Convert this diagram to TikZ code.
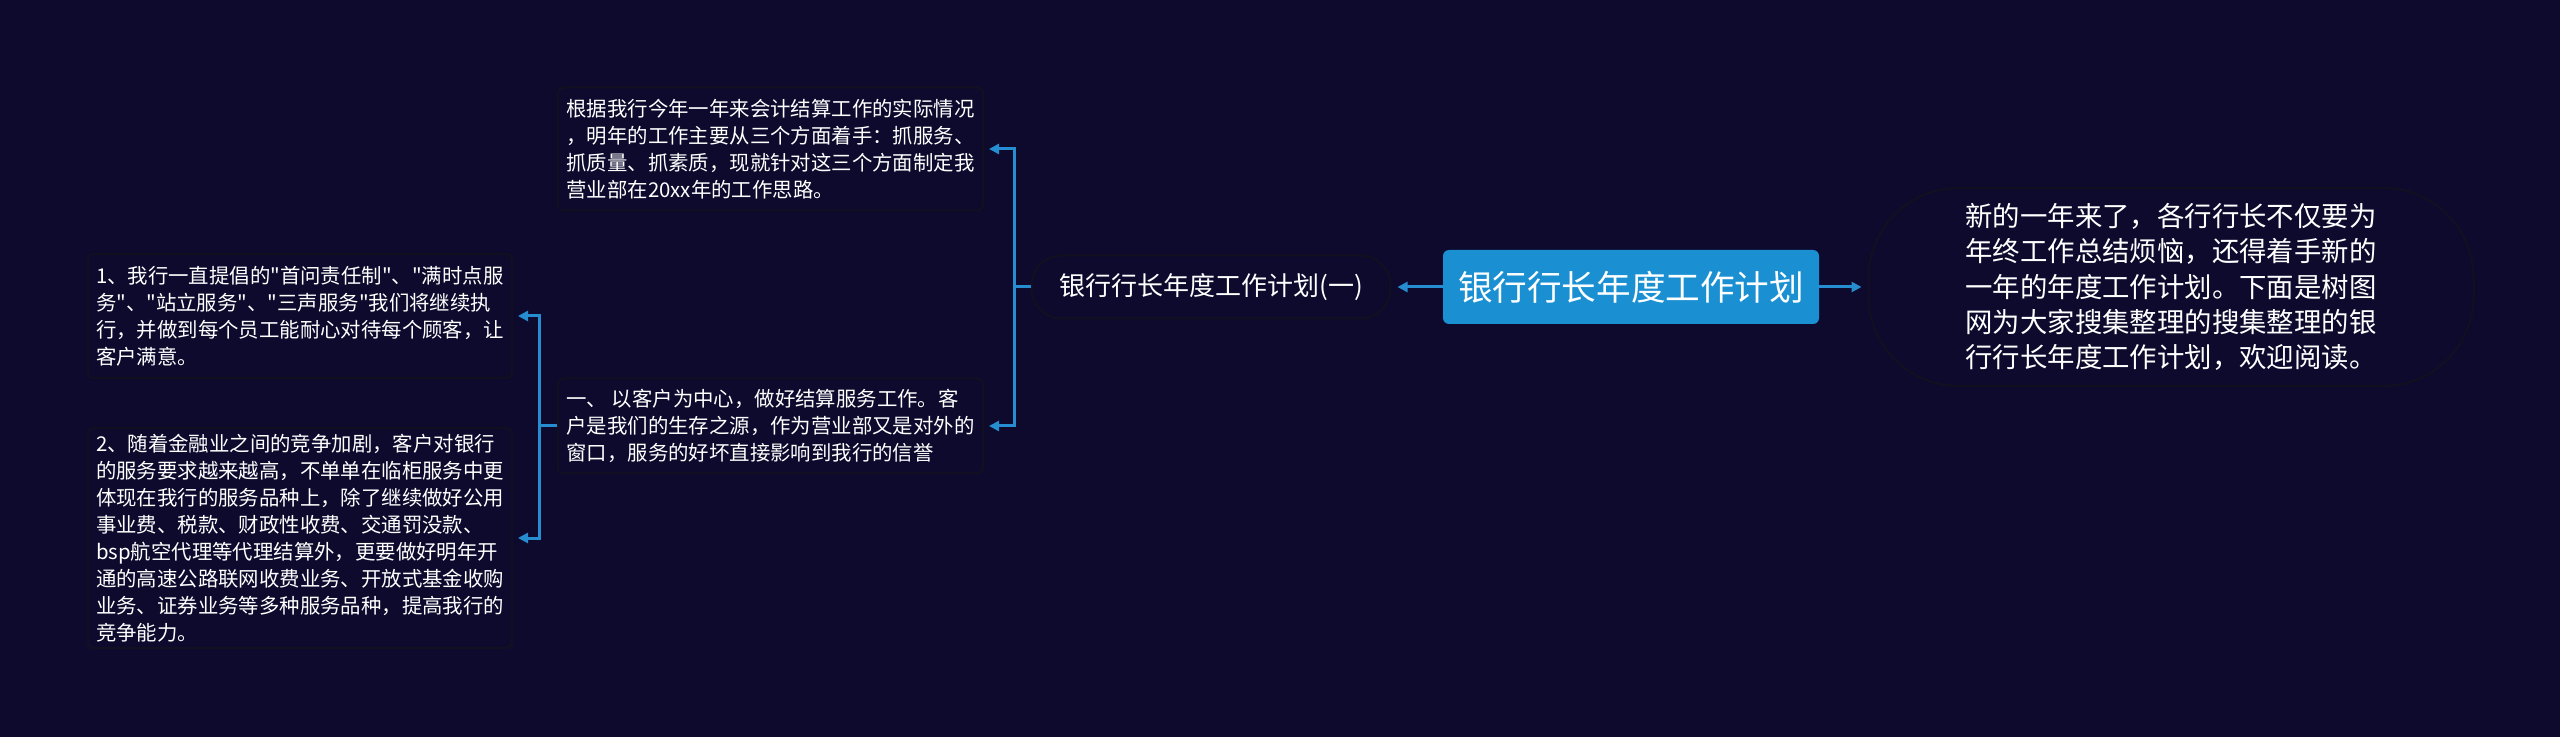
\documentclass[tikz,border=0pt]{standalone}
\usepackage{fontspec}
\setmainfont{Noto Sans CJK SC}[Ligatures=TeXOff]
\usetikzlibrary{arrows.meta}
\definecolor{bgc}{RGB}{13,10,45}
\definecolor{rootc}{RGB}{26,144,210}
\definecolor{linec}{RGB}{38,142,208}
\definecolor{bordc}{RGB}{18,16,32}
\tikzset{
  conn/.style={draw=linec,line width=1.5pt,-{Triangle[length=5pt,width=5pt]}},
  plain/.style={draw=linec,line width=1.5pt},
  txtbox/.style={draw=bordc,fill=bgc,line width=1pt,rounded corners=3pt,text=white,align=left,inner sep=0pt,
    font=\fontsize{10.2}{13.5}\selectfont},
}
\begin{document}
\begin{tikzpicture}[x=0.5pt,y=-0.5pt]
\useasboundingbox (0,0) rectangle (2560,737);
\fill[bgc] (0,0) rectangle (2560,737);

\node[draw=none,fill=rootc,rounded corners=3pt,text=white,minimum width=188pt,minimum height=37pt,inner sep=0pt,
  font=\fontsize{17.3}{20}\selectfont] (root) at (1631,287) {银行行长年度工作计划};

\node[txtbox,rounded corners=45pt,minimum width=302.5pt,minimum height=99pt,
  font=\fontsize{13.7}{17.7}\selectfont] (desc) at (2171,287)
  {新的一年来了，各行行长不仅要为\\年终工作总结烦恼，还得着手新的\\一年的年度工作计划。下面是树图\\网为大家搜集整理的搜集整理的银\\行行长年度工作计划，欢迎阅读。};

\node[txtbox,rounded corners=15pt,minimum width=179.5pt,minimum height=31.5pt,
  font=\fontsize{13}{16}\selectfont] (br) at (1211,287) {银行行长年度工作计划(一)};

\node[txtbox,minimum width=212.5pt,minimum height=61.5pt] (top) at (770.5,149)
  {根据我行今年一年来会计结算工作的实际情况\\，明年的工作主要从三个方面着手：抓服务、\\抓质量、抓素质，现就针对这三个方面制定我\\营业部在20xx年的工作思路。};

\node[txtbox,minimum width=212.5pt,minimum height=47.5pt] (mid) at (770.5,426)
  {一、 以客户为中心，做好结算服务工作。客\\户是我们的生存之源，作为营业部又是对外的\\窗口，服务的好坏直接影响到我行的信誉};

\node[txtbox,minimum width=212pt,minimum height=62pt] (n1) at (300,316)
  {1、我行一直提倡的"首问责任制"、"满时点服\\务"、"站立服务"、"三声服务"我们将继续执\\行，并做到每个员工能耐心对待每个顾客，让\\客户满意。};

\node[txtbox,minimum width=212pt,minimum height=110pt] (n2) at (300,538)
  {2、随着金融业之间的竞争加剧，客户对银行\\的服务要求越来越高，不单单在临柜服务中更\\体现在我行的服务品种上，除了继续做好公用\\事业费、税款、财政性收费、交通罚没款、\\bsp航空代理等代理结算外，更要做好明年开\\通的高速公路联网收费业务、开放式基金收购\\业务、证券业务等多种服务品种，提高我行的\\竞争能力。};

\coordinate (j1) at (1014,287);
\coordinate (j2) at (539,426);

\draw[conn,shorten >=3pt] (root.east) -- (desc.west);
\draw[conn,shorten >=3pt] (root.west) -- (br.east);
\draw[plain] (br.west) -- (j1);
\draw[conn,shorten >=2.5pt] (j1) |- (top.east);
\draw[conn,shorten >=2.5pt] (j1) |- (mid.east);
\draw[plain] (mid.west) -- (j2);
\draw[conn,shorten >=2.5pt] (j2) |- (n1.east);
\draw[conn,shorten >=2.5pt] (j2) |- (n2.east);
\end{tikzpicture}
\end{document}
